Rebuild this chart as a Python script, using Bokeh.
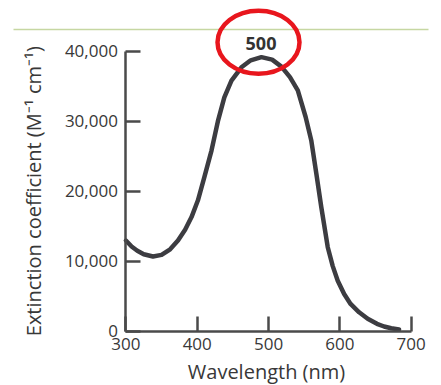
import math
from bokeh.plotting import figure
from bokeh.models import Range1d, FixedTicker, BoxAnnotation, Label, NumeralTickFormatter
from bokeh.embed import file_html
from bokeh.resources import INLINE

# ---- data ----
wavelength = [300, 308, 316, 325, 338, 350, 362, 373, 383, 392, 401, 410, 420, 429,
              438, 448, 462, 475, 490, 505, 518, 530, 541, 552, 560, 567, 574, 583,
              590, 597, 606, 615, 627, 639, 652, 662, 672, 683]
extinction = [12950, 12100, 11500, 11000, 10670, 10900, 11700, 12950, 14500, 16300,
              18700, 22000, 25800, 30000, 33400, 35800, 37700, 38700, 39150, 38800,
              37800, 36300, 34400, 30600, 27200, 22500, 17700, 12000, 9300, 7200,
              5300, 3900, 2700, 1770, 1050, 670, 420, 250]
x_ticks = [300, 400, 500, 600, 700]
y_ticks = [0, 10000, 20000, 30000, 40000]
peak_text = "500"
x_title = "Wavelength (nm)"
y_title = "Extinction coefficient (M\u207b\u00b9 cm\u207b\u00b9)"

FONT = "Open Sans"
AXIS_COLOR = "#4a4a4a"
TEXT_COLOR = "#383838"

W, H = 441, 385
# pixel anchors of the axes on the canvas
X0_PX, X1_PX = 125.4, 410.7      # x = 300 .. 700
Y0_PX, Y1_PX = 330.7, 50.7       # y = 0 .. 40000
sx = (X1_PX - X0_PX) / (x_ticks[-1] - x_ticks[0])
sy = (Y0_PX - Y1_PX) / (y_ticks[-1] - y_ticks[0])
x_start = x_ticks[0] - X0_PX / sx
x_end = x_ticks[0] + (W - X0_PX) / sx
y_start = y_ticks[0] - (H - Y0_PX) / sy
y_end = y_ticks[0] + Y0_PX / sy

def px_x(px):
    return x_start + px / sx

def px_y(py):
    return y_end - py / sy

p = figure(width=W, height=H, output_backend="svg", toolbar_location=None,
           x_range=Range1d(x_start, x_end), y_range=Range1d(y_start, y_end),
           min_border=0)
p.outline_line_color = None
p.grid.visible = False
p.background_fill_color = "white"
p.border_fill_color = "white"

for ax in (p.xaxis[0], p.yaxis[0]):
    ax.axis_line_color = AXIS_COLOR
    ax.axis_line_width = 2.5
    ax.major_tick_line_color = AXIS_COLOR
    ax.major_tick_line_width = 2.5
    ax.major_tick_in = 15
    ax.major_tick_out = 0
    ax.minor_tick_line_color = None
    ax.major_label_text_font = FONT
    ax.major_label_text_font_size = "17px"
    ax.major_label_text_color = TEXT_COLOR

xa = p.xaxis[0]
xa.ticker = FixedTicker(ticks=x_ticks)
xa.bounds = (x_ticks[0], x_ticks[-1])
xa.fixed_location = y_ticks[0]
xa.major_label_standoff = 7

ya = p.yaxis[0]
ya.ticker = FixedTicker(ticks=y_ticks)
ya.bounds = (y_ticks[0], y_ticks[-1])
ya.fixed_location = x_ticks[0]
ya.formatter = NumeralTickFormatter(format="0,0")
ya.major_label_standoff = 8

# axis titles
p.add_layout(Label(x=px_x(266), y=px_y(384), text=x_title, text_align="center",
                   text_baseline="bottom", text_font=FONT, text_font_size="20px",
                   text_color=TEXT_COLOR))
p.add_layout(Label(x=px_x(33), y=(y_ticks[0] + y_ticks[-1]) / 2, text=y_title,
                   angle=math.pi / 2, text_align="center", text_baseline="middle",
                   text_font=FONT, text_font_size="20px", text_color=TEXT_COLOR))

# thin green rule across the top of the page
p.add_layout(BoxAnnotation(left=13, right=428, top=28.3, bottom=29.8,
                           left_units="canvas", right_units="canvas",
                           top_units="canvas", bottom_units="canvas",
                           fill_color="#c6d7a2", fill_alpha=1.0, line_color=None,
                           level="underlay"))

p.line(wavelength, extinction, line_width=4.5, line_color="#3c3c41",
       line_cap="round", line_join="round")

# peak annotation
p.ellipse(x=[px_x(258)], y=[px_y(41.7)], width=[82], height=[63], width_units="screen",
          height_units="screen", fill_color=None, line_color="#e8161d", line_width=4.5)
p.add_layout(Label(x=px_x(260.5), y=px_y(43.3), text=peak_text, text_align="center",
                   text_baseline="middle", text_font=FONT, text_font_size="18px",
                   text_font_style="bold", text_color="#333333"))

open("out.html", "w").write(file_html(p, INLINE))
